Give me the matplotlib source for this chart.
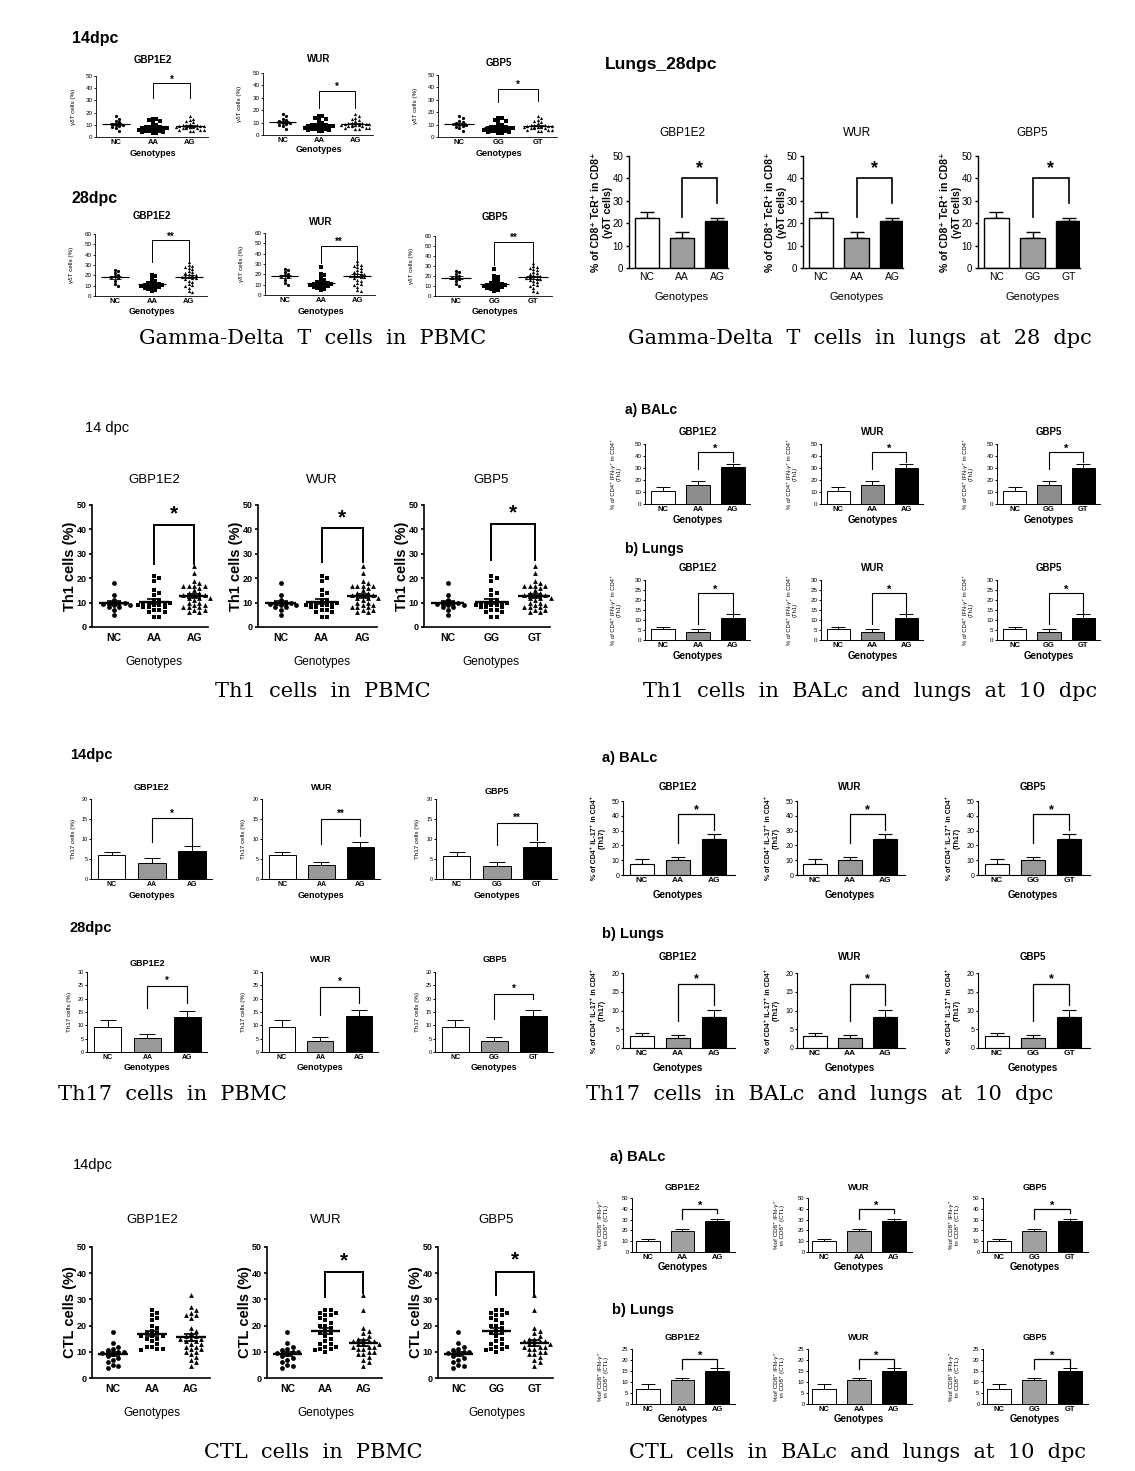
import numpy as np
import matplotlib
matplotlib.use("Agg")
import matplotlib.pyplot as plt

W, H = 1135, 1471

GENES = ["GBP1E2", "WUR", "GBP5"]
CATS_A = ["NC", "AA", "AG"]
CATS_G = ["NC", "GG", "GT"]

# ---------------- Gamma-delta T cells in PBMC (individual values, %) -------------
gd14_nc = [17, 15, 13, 12, 11, 10, 10, 9, 8, 7, 5]
gd14_aa = [15, 15, 14, 13, 12, 10, 9, 8, 8, 8, 7, 7, 7, 6, 6, 6, 6, 5, 5, 5, 4, 4, 3, 3, 7]
gd14_ag = [17, 15, 14, 13, 12, 11, 10, 10, 10, 9, 9, 9, 8, 8, 8, 8, 7, 7, 7, 6, 6, 6, 5, 5, 9, 8]
gd28_nc = [25, 24, 22, 20, 19, 18, 17, 15, 12, 10]
gd28_aa1 = [20, 19, 17, 15, 14, 13, 12, 12, 11, 11, 10, 10, 9, 9, 8, 8, 7, 6, 5, 11]
gd28_aa2 = [27, 20, 19, 17, 15, 14, 13, 12, 12, 11, 11, 10, 10, 9, 9, 8, 8, 7, 6, 5, 11]
gd28_ag = [33, 30, 29, 28, 27, 26, 24, 23, 22, 21, 20, 19, 18, 18, 17, 16, 15, 14, 12, 11, 10, 8, 5, 4, 20, 17]

# ---------------- Gamma-delta T cells in lungs 28 dpc (mean, SEM) ----------------
gdl_mean = [22.3, 13.3, 21.0]
gdl_sem = [2.7, 2.9, 1.3]

# ---------------- Th1 cells in PBMC (individual values, %) -----------------------
th1_nc = [18, 13, 11, 10, 10, 10, 9, 9, 8, 8, 7, 5, 9.5]
th1_aa = [21, 20, 19, 15, 14, 13, 11, 10, 10, 10, 9, 9, 9, 8, 8, 7, 7, 6, 6, 4, 4, 10, 11, 8]
th1_ag = [25, 22, 19, 18, 17, 17, 17, 17, 16, 15, 14, 14, 13, 13, 12, 12, 11, 10, 10, 9,
          9, 8, 8, 8, 7, 7, 6, 6, 13, 12]

# ---------------- Th1 cells in BALc / lungs (mean, SEM) --------------------------
th1_bal_mean = [[10.5, 16.0, 30.5], [10.5, 16.0, 30.0], [10.5, 16.0, 30.0]]
th1_bal_sem = [3.5, 3.0, 3.0]
th1_lung_mean = [5.5, 4.0, 11.0]
th1_lung_sem = [1.0, 1.3, 2.0]

# ---------------- Th17 cells in PBMC (mean, SEM) --------------------------------
th17_14_mean = [[6.0, 4.0, 7.0], [6.0, 3.5, 8.0], [5.8, 3.3, 8.0]]
th17_14_sem = [[0.8, 1.2, 1.2], [0.8, 0.8, 1.2], [1.0, 1.0, 1.2]]
th17_28_mean = [[9.3, 5.2, 13.0], [9.3, 4.3, 13.5], [9.3, 4.3, 13.5]]
th17_28_sem = [[2.7, 1.4, 2.3], [2.7, 1.4, 2.2], [2.7, 1.4, 2.2]]

# ---------------- Th17 cells in BALc / lungs (mean, SEM) -------------------------
th17_bal_mean = [7.5, 10.0, 24.0]
th17_bal_sem = [3.0, 2.5, 3.5]
th17_lung_mean = [3.3, 2.6, 8.2]
th17_lung_sem = [0.6, 1.0, 2.0]

# ---------------- CTL cells in PBMC (individual values, %) -----------------------
ctl_nc = [17.5, 13.5, 12, 11, 10.5, 10, 10, 9.5, 9, 8.5, 7.5, 7, 6, 5, 4.5, 4]
ctl_aa1 = [26, 25, 24, 23, 22, 20, 19, 18, 17, 17, 16, 16, 15, 15, 14, 13, 12, 12, 11, 11, 10.5, 16]
ctl_aa2 = [26, 26, 25, 25, 24, 24, 23, 22, 21, 20, 20, 19, 18, 17, 17, 16, 15, 14, 13, 13,
           12, 12, 11, 11, 10.5, 10]
ctl_ag1 = [31.5, 27, 26, 25, 24, 24, 23, 19, 18, 17, 16, 16, 15, 15, 14, 14, 13, 13, 12, 12,
           11, 11, 10, 10, 9, 8, 7, 6, 4.5, 15]
ctl_ag2 = [31.5, 26, 19, 18, 17, 16, 15, 14, 14, 13, 13, 13, 12, 12, 12, 11, 11, 10, 10, 9,
           9, 8, 7, 6, 4.5, 15, 14]

# ---------------- CTL cells in BALc / lungs (mean, SEM) --------------------------
ctl_bal_mean = [10.5, 19.0, 28.5]
ctl_bal_sem = [1.8, 2.2, 2.0]
ctl_lung_mean = [7.0, 11.0, 14.8]
ctl_lung_sem = [2.0, 1.0, 1.5]

# =================================================================================
SANS = ['Liberation Sans', 'DejaVu Sans']
SERIF = ['DejaVu Serif']

fig = plt.figure(figsize=(W / 100, H / 100), dpi=100)
fig.patch.set_facecolor('white')


def ftext(px, py, s, **kw):
    fig.text(px / W, 1 - py / H, s, **kw)


def swarm(v, dx, dy, maxoff):
    order = np.argsort(-v, kind='stable')
    cands = [0.0]
    j = 1
    while j * dx <= maxoff:
        cands += [j * dx, -j * dx]
        j += 1
    px, py = [], []
    offs = np.zeros(len(v))
    for idx in order:
        y = v[idx]
        best, bestc = None, None
        for c in cands:
            n = sum(1 for a, b in zip(px, py) if abs(b - y) < dy and abs(a - c) < dx * 0.99)
            if n == 0:
                best = c
                break
            if bestc is None or n < bestc:
                bestc, best = n, c
        offs[idx] = best
        px.append(best)
        py.append(y)
    return offs


def panel(box, xlim, ymax, ystep, cats, title, title_py, xlab_py, ylabel, ylab_off, S,
          kind, data, bracket=None, gray='#999999'):
    x0, ytop, x1, ybot = box
    wpx, hpx = x1 - x0, ybot - ytop
    ax = fig.add_axes([x0 / W, 1 - ybot / H, wpx / W, hpx / H])
    ax.set_xlim(*xlim)
    ax.set_ylim(0, ymax)
    spacing = wpx / (xlim[1] - xlim[0])
    for s in ('top', 'right'):
        ax.spines[s].set_visible(False)
    for s in ('left', 'bottom'):
        ax.spines[s].set_linewidth(S['lw'])
    ax.set_xticks(range(3))
    ax.set_xticklabels(cats, fontsize=S['tick'], fontweight=S['tickw'], family=SANS)
    yt = np.arange(0, ymax + 0.001, ystep)
    ax.set_yticks(yt)
    ax.set_yticklabels([f"{t:g}" for t in yt], fontsize=S['ytick'], family=SANS,
                       fontweight=S['ytickw'])
    ax.tick_params(axis='both', length=S['tl'], width=S['lw'], pad=S['pad'])
    ax.tick_params(axis='x', length=0, pad=S['xpad'])
    ax.patch.set_alpha(0)
    xmid = (1 - xlim[0]) / (xlim[1] - xlim[0])
    ax.text(xmid, (ybot - title_py) / hpx, title, transform=ax.transAxes, ha='center',
            va='center', fontsize=S['title'], fontweight=S['titlew'], family=SANS)
    ax.set_xlabel('Genotypes', fontsize=S['xlab'], fontweight=S['xlabw'], family=SANS,
                  va='center')
    ax.xaxis.set_label_coords(xmid, -(xlab_py - ybot) / hpx)
    ax.set_ylabel(ylabel, fontsize=S['ylab'], fontweight=S['ylabw'], family=SANS,
                  va='center', ha='center', multialignment='center', linespacing=1.15)
    ax.yaxis.set_label_coords(-ylab_off / wpx, 0.5)
    lw = S['lw']
    if kind == 'scatter':
        ms = S['ms']
        dx = ms / spacing * 1.1
        dy = ms * ymax / hpx * 0.9
        for i, (g, m) in enumerate(zip(data, ['o', 's', '^'])):
            v = np.asarray(g, float)
            offs = swarm(v, dx, dy, S['spread'])
            ax.scatter(i + offs, v, marker=m, s=(ms * 0.72) ** 2, c='k', linewidths=0,
                       clip_on=False, zorder=3)
            mean = v.mean()
            sem = v.std(ddof=1) / np.sqrt(len(v))
            ax.plot([i - 0.38, i + 0.38], [mean, mean], color='k', lw=lw * 1.4, zorder=4,
                    solid_capstyle='butt')
            ax.errorbar(i, mean, yerr=sem, fmt='none', ecolor='k', elinewidth=lw,
                        capsize=0.17 * spacing * 0.72, capthick=lw, zorder=4)
    else:
        means, sems = data
        x = np.arange(3)
        ax.errorbar(x, means, yerr=[np.zeros(3), sems], fmt='none', ecolor='k',
                    elinewidth=lw, capsize=0.2 * spacing * 0.72, capthick=lw, zorder=1)
        ax.bar(x, means, width=0.68, color=['white', gray, 'black'], edgecolor='k',
               linewidth=lw, zorder=2)
    if bracket is not None:
        yb, yl, yr, star = bracket
        ax.plot([1, 1, 2, 2], [yl, yb, yb, yr], color='k', lw=S['blw'], clip_on=False,
                zorder=5, solid_joinstyle='miter')
        ax.text(1.5, yb + S['stoff'] * ymax, star, ha='center', va='center',
                fontsize=S['star'], family=SANS, fontweight='bold')
    return ax


def style(**kw):
    base = dict(tick=5.5, tickw='bold', ytick=4.5, ytickw='normal', title=6.5,
                titlew='bold', xlab=6.5, xlabw='bold', ylab=4.5, ylabw='normal',
                lw=0.6, tl=1.5, pad=1, xpad=1.5, ms=3.0, star=7, blw=0.7, stoff=0.06,
                spread=0.4)
    base.update(kw)
    return base


def caption(px, py, s):
    ftext(px, py, s, fontsize=15, family=SERIF, ha='center', va='center')


def header(px, py, s, size, weight='bold'):
    ftext(px, py, s, fontsize=size, fontweight=weight, family=SANS, ha='left', va='center')


# ============================ Section 1: gd PBMC =================================
S1 = style(title=7, tick=5.5, xlab=6.5, ms=3.2)
header(72, 38, '14dpc', 11.5)
header(72, 198, '28dpc', 11.5)
r1_cols = [(96, 208), (263, 373), (438, 557)]
r1_ys = [(76, 137), (73, 135), (75, 137)]
r1_tit = [60, 59, 63]
r1_xl = [153, 150, 153]
r1_br = [(44, 32, 32, '*'), (35.6, 21.5, 21.5, '*'), (39, 28, 29, '*')]
r2_cols = [(95, 207), (265, 375), (435, 552)]
r2_ys = [(234, 296), (233, 295), (236, 296)]
r2_tit = [216, 222, 217]
r2_br = [(53.8, 33, 33, '**'), (47.7, 31, 31, '**'), (54.3, 31, 31, '**')]
gd28_aa = [gd28_aa1, gd28_aa2, gd28_aa2]
for k in range(3):
    cats = CATS_G if k == 2 else CATS_A
    panel((r1_cols[k][0], r1_ys[k][0], r1_cols[k][1], r1_ys[k][1]), (-0.54, 2.49), 50, 10,
          cats, GENES[k], r1_tit[k], r1_xl[k], 'γδT cells (%)', 23, S1, 'scatter',
          [gd14_nc, gd14_aa, gd14_ag], r1_br[k])
    panel((r2_cols[k][0], r2_ys[k][0], r2_cols[k][1], r2_ys[k][1]), (-0.54, 2.49), 60, 10,
          cats, GENES[k], r2_tit[k], 311, 'γδT cells (%)', 23, S1, 'scatter',
          [gd28_nc, gd28_aa[k], gd28_ag], r2_br[k])
caption(313, 339, 'Gamma-Delta  T  cells  in  PBMC')

# ============================ Section 2: gd lungs ================================
S2 = style(tick=7.5, tickw='normal', ytick=7, title=8.5, titlew='normal',
           xlab=8, xlabw='normal', ylab=7.5, ylabw='bold', lw=1.0, tl=2.5,
           pad=1.5, xpad=3, star=13, blw=1.2, stoff=0.08)
header(605, 65, 'Lungs_28dpc', 12.5)
s2_cols = [(629, 728), (803, 903), (978, 1080)]
for k in range(3):
    cats = CATS_G if k == 2 else CATS_A
    panel((s2_cols[k][0], 156, s2_cols[k][1], 268), (-0.51, 2.31), 50, 10, cats, GENES[k],
          133, 297, '% of CD8⁺ TcR⁺ in CD8⁺\n(γδT cells)', 27, S2, 'bar',
          (gdl_mean, gdl_sem), (40.4, 22.8, 28.8, '*'), gray='#9e9e9e')
caption(860, 339, 'Gamma-Delta  T  cells  in  lungs  at  28  dpc')

# ============================ Section 3: Th1 PBMC ================================
S3 = style(tick=7.5, tickw='bold', ytick=6.5, ytickw='bold', title=9.5,
           titlew='normal', xlab=8.5, xlabw='normal', ylab=10.5, ylabw='bold',
           lw=1.2, tl=2.5, pad=1.5, xpad=4, ms=4.8, star=15, blw=1.4, stoff=0.09,
           spread=0.46)
header(85, 428, '14 dpc', 10.5, 'normal')
s3_cols = [(92, 208), (258, 377), (424, 550)]
s3_br = [(41.8, 26, 26, '*'), (40.4, 26.5, 26.5, '*'), (42.4, 27.5, 27.5, '*')]
for k in range(3):
    cats = CATS_G if k == 2 else CATS_A
    panel((s3_cols[k][0], 505, s3_cols[k][1], 627), (-0.55, 2.35), 50, 10, cats, GENES[k],
          480, 662, 'Th1 cells (%)', 22, S3, 'scatter', [th1_nc, th1_aa, th1_ag], s3_br[k])
caption(323, 692, 'Th1  cells  in  PBMC')

# ============================ Section 4: Th1 BALc / lungs ========================
S4 = style(tick=5.5, ytick=4.5, title=7, xlab=7, ylab=4.2, lw=0.7, star=8, blw=0.8)
header(625, 410, 'a) BALc', 10)
header(625, 549, 'b) Lungs', 10)
s4_cols = [(645, 750), (821, 923), (997, 1100)]
for k in range(3):
    cats = CATS_G if k == 2 else CATS_A
    panel((s4_cols[k][0], 444, s4_cols[k][1], 504), (-0.51, 2.49), 50, 10, cats, GENES[k],
          432, 520, '% of CD4⁺ IFN-γ⁺ in CD4⁺\n(Th1)', 29, S4, 'bar',
          (th1_bal_mean[k], th1_bal_sem), (43, 29, 35.4, '*'), gray='#8c8c8c')
    panel((s4_cols[k][0], 580, s4_cols[k][1], 640), (-0.51, 2.49), 30, 5, cats, GENES[k],
          568, 656, '% of CD4⁺ IFN-γ⁺ in CD4⁺\n(Th1)', 29, S4, 'bar',
          (th1_lung_mean, th1_lung_sem), (23.5, 8, 13.5, '*'), gray='#8c8c8c')
caption(870, 692, 'Th1  cells  in  BALc  and  lungs  at  10  dpc')

# ============================ Section 5: Th17 PBMC ===============================
S5 = style(tick=5, ytick=4, title=6.5, xlab=6.5, ylab=4.5, lw=0.7, star=7, blw=0.8)
header(70, 755, '14dpc', 10.5)
header(70, 928, '28dpc', 10.5)
s5r1_cols = [(91, 212), (262, 380), (436, 557)]
s5r1_tit = [787, 787, 792]
s5r1_br = [(15.2, 9.3, 8.4, '*'), (15.1, 8.7, 10.7, '**'), (14.0, 8.6, 9.8, '**')]
s5r2_cols = [(87, 207), (262, 378), (435, 553)]
s5r2_tit = [964, 959, 960]
s5r2_br = [(24.8, 16.6, 18.2, '*'), (24.4, 13.9, 18.2, '*'), (21.9, 12.3, 20.0, '*')]
for k in range(3):
    cats = CATS_G if k == 2 else CATS_A
    panel((s5r1_cols[k][0], 799, s5r1_cols[k][1], 879), (-0.52, 2.5), 20, 5, cats, GENES[k],
          s5r1_tit[k], 895, 'Th17 cells (%)', 18, S5, 'bar',
          (th17_14_mean[k], th17_14_sem[k]), s5r1_br[k])
    panel((s5r2_cols[k][0], 972, s5r2_cols[k][1], 1052), (-0.52, 2.5), 30, 5, cats, GENES[k],
          s5r2_tit[k], 1068, 'Th17 cells (%)', 18, S5, 'bar',
          (th17_28_mean[k], th17_28_sem[k]), s5r2_br[k])
caption(172, 1094, 'Th17  cells  in  PBMC')

# ============================ Section 6: Th17 BALc / lungs =======================
S6 = style(tick=6, ytick=5, title=7, xlab=7, ylab=5, ylabw='bold', lw=0.8, star=9, blw=0.9)
header(602, 758, 'a) BALc', 10.5)
header(602, 934, 'b) Lungs', 10.5)
s6_cols = [(623, 735), (797, 905), (978, 1090)]
for k in range(3):
    cats = CATS_G if k == 2 else CATS_A
    panel((s6_cols[k][0], 801, s6_cols[k][1], 875), (-0.52, 2.58), 50, 10, cats, GENES[k],
          787, 895, '% of CD4⁺ IL-17⁺ in CD4⁺\n(Th17)', 25, S6, 'bar',
          (th17_bal_mean, th17_bal_sem), (41, 21.4, 30.4, '*'))
    panel((s6_cols[k][0], 973, s6_cols[k][1], 1048), (-0.52, 2.58), 20, 5, cats, GENES[k],
          957, 1068, '% of CD4⁺ IL-17⁺ in CD4⁺\n(Th17)', 25, S6, 'bar',
          (th17_lung_mean, th17_lung_sem), (17.2, 7.2, 11.5, '*'))
caption(820, 1094, 'Th17  cells  in  BALc  and  lungs  at  10  dpc')

# ============================ Section 7: CTL PBMC ================================
S7 = S3
header(73, 1165, '14dpc', 10.5, 'normal')
s7_cols = [(92, 210), (267, 382), (438, 553)]
s7_br = [None, (40.3, 31, 32.4, '*'), (40.4, 31.8, 31.8, '*')]
s7_aa = [ctl_aa1, ctl_aa2, ctl_aa2]
s7_ag = [ctl_ag1, ctl_ag2, ctl_ag2]
for k in range(3):
    cats = CATS_G if k == 2 else CATS_A
    panel((s7_cols[k][0], 1247, s7_cols[k][1], 1378), (-0.54, 2.49), 50, 10, cats, GENES[k],
          1220, 1413, 'CTL cells (%)', 22, S7, 'scatter', [ctl_nc, s7_aa[k], s7_ag[k]],
          s7_br[k])
caption(313, 1452, 'CTL  cells  in  PBMC')

# ============================ Section 8: CTL BALc / lungs ========================
S8 = style(tick=5.5, ytick=4.2, title=6.5, xlab=7, ylab=4.5, lw=0.7, star=8, blw=0.9)
header(610, 1157, 'a) BALc', 10.5)
header(612, 1310, 'b) Lungs', 10.5)
s8_cols = [(632, 735), (808, 912), (983, 1088)]
for k in range(3):
    cats = CATS_G if k == 2 else CATS_A
    panel((s8_cols[k][0], 1198, s8_cols[k][1], 1252), (-0.46, 2.52), 50, 10, cats, GENES[k],
          1187, 1267, '%of CD8⁺ IFN-γ⁺\nin CD8⁺ (CTL)', 29, S8, 'bar',
          (ctl_bal_mean, ctl_bal_sem), (40, 31, 35.7, '*'), gray='#a0a0a0')
    panel((s8_cols[k][0], 1349, s8_cols[k][1], 1404), (-0.46, 2.52), 25, 5, cats, GENES[k],
          1338, 1419, '%of CD8⁺ IFN-γ⁺\nin CD8⁺ (CTL)', 29, S8, 'bar',
          (ctl_lung_mean, ctl_lung_sem), (20.5, 15.9, 17, '*'), gray='#a0a0a0')
caption(857, 1452, 'CTL  cells  in  BALc  and  lungs  at  10  dpc')

fig.savefig('out.png', dpi=100, facecolor='white')
